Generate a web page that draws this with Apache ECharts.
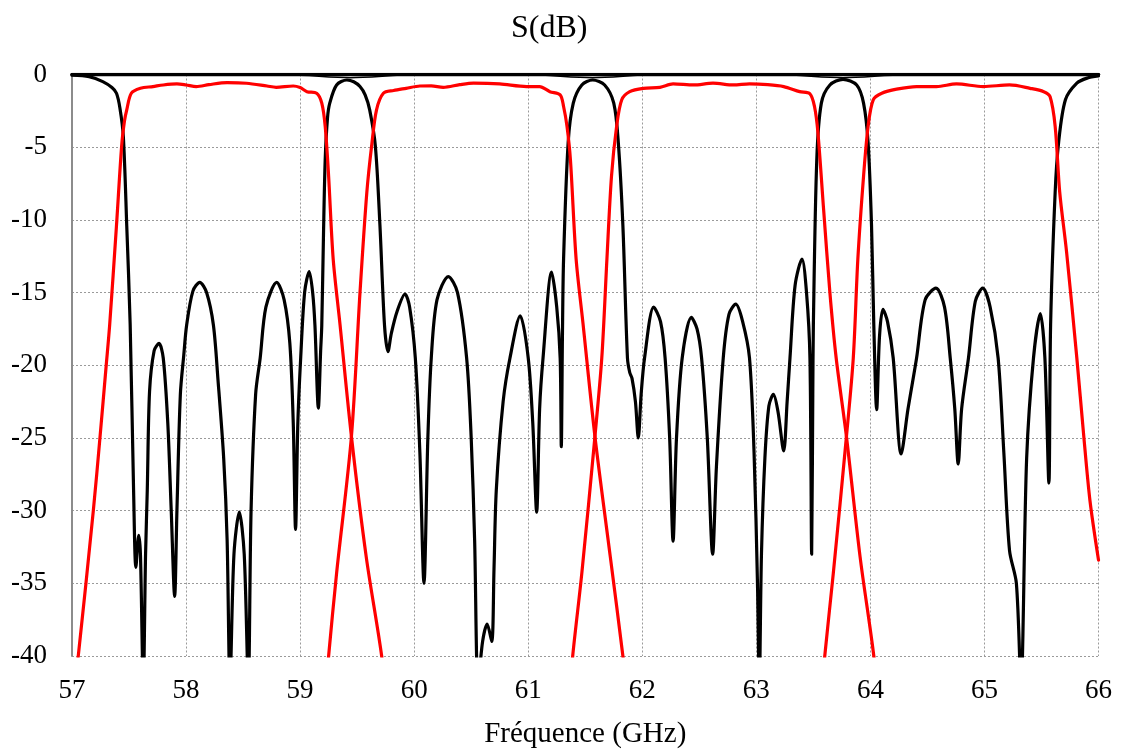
<!DOCTYPE html>
<html>
<head>
<meta charset="utf-8">
<script src="https://cdn.jsdelivr.net/npm/echarts@6/dist/echarts.min.js"></script>
<style>
html,body{margin:0;padding:0;background:#fff;}
#chart{width:1122px;height:754px;}
</style>
</head>
<body>
<div id="chart"></div>
<script>
// Axis ticks
var xTicks = [57, 58, 59, 60, 61, 62, 63, 64, 65, 66];
var yTicks = [0, -5, -10, -15, -20, -25, -30, -35, -40];

// Reflection at common port (black) [GHz, dB]
var s11 = [
[57.00,-0.05],[57.15,-0.15],[57.27,-0.49],[57.35,-0.9],[57.39,-1.29],[57.42,-2.3],[57.45,-4.25],[57.48,-10.4],
[57.51,-17.2],[57.54,-28.6],[57.56,-33.9],[57.585,-31.7],[57.60,-33],[57.625,-42],[57.645,-33],[57.66,-28.6],
[57.68,-21.8],[57.72,-19.0],[57.763,-18.5],[57.80,-19.5],[57.84,-24],[57.87,-30],[57.90,-35.9],[57.92,-30],
[57.95,-22],[57.98,-19.3],[58.005,-17.25],[58.06,-14.9],[58.12,-14.3],[58.18,-15.0],[58.24,-17.25],[58.28,-21],
[58.33,-26.4],[58.36,-32],[58.385,-42],[58.42,-33],[58.467,-30.1],[58.51,-33],[58.546,-42],[58.57,-30],
[58.61,-22],[58.65,-19.5],[58.70,-16],[58.795,-14.3],[58.86,-15.5],[58.91,-18.5],[58.94,-24],[58.96,-31.3],
[58.98,-24],[59.005,-19.5],[59.04,-14.95],[59.08,-13.55],[59.11,-15],[59.13,-17.25],[59.16,-22.95],[59.18,-19],
[59.19,-17.25],[59.205,-11],[59.22,-5.85],[59.24,-3],[59.26,-1.97],[59.32,-0.72],[59.41,-0.38],[59.47,-0.5],
[59.525,-0.83],[59.57,-1.4],[59.61,-2.43],[59.66,-4.94],[59.70,-10.4],[59.74,-17.25],[59.77,-19.07],[59.80,-17.8],
[59.85,-16.3],[59.92,-15.1],[59.96,-16.0],[60.01,-19.5],[60.05,-26],[60.086,-35.0],[60.12,-25],[60.15,-19.5],
[60.2,-15.5],[60.30,-13.9],[60.38,-15.0],[60.46,-19.5],[60.50,-25],[60.53,-32],[60.56,-42],[60.60,-39],
[60.64,-37.8],[60.68,-39.0],[60.70,-34],[60.72,-28.6],[60.78,-22.5],[60.84,-19.5],[60.93,-16.6],[61.0,-19.5],
[61.04,-24],[61.074,-30.1],[61.10,-23],[61.13,-19.5],[61.205,-13.6],[61.25,-16],[61.28,-19.5],[61.29,-25.6],
[61.30,-18],[61.31,-12.7],[61.35,-4.7],[61.395,-1.97],[61.47,-0.72],[61.565,-0.38],[61.67,-0.72],[61.75,-1.97],
[61.79,-4.7],[61.83,-10.4],[61.87,-19.5],[61.89,-20.5],[61.91,-20.9],[61.94,-22.5],[61.965,-25.0],[61.99,-22],
[62.02,-19.5],[62.10,-16.0],[62.16,-17],[62.2,-19.5],[62.24,-25],[62.27,-32.1],[62.30,-25],[62.35,-19.5],
[62.43,-16.7],[62.48,-17.5],[62.52,-19.5],[62.57,-25],[62.617,-33.0],[62.65,-27],[62.71,-19.5],[62.76,-16.5],
[62.82,-15.8],[62.88,-17],[62.94,-19.5],[62.98,-26],[63.01,-35],[63.026,-42],[63.045,-33],[63.075,-26.4],
[63.11,-22.8],[63.15,-22.0],[63.19,-23.2],[63.24,-25.9],[63.27,-22.5],[63.295,-19.5],[63.34,-14.5],[63.40,-12.7],
[63.44,-15],[63.47,-19.5],[63.485,-33.0],[63.495,-22],[63.50,-17.25],[63.53,-5.85],[63.57,-1.97],[63.645,-0.72],
[63.76,-0.33],[63.88,-0.72],[63.94,-1.97],[63.98,-4.7],[64.01,-10.4],[64.03,-17.25],[64.055,-23.06],[64.08,-18],
[64.11,-16.15],[64.15,-17],[64.20,-19.5],[64.27,-26.1],[64.33,-23],[64.405,-19.5],[64.48,-15.5],[64.575,-14.7],
[64.65,-16],[64.7,-19.5],[64.74,-23],[64.77,-26.8],[64.80,-23],[64.86,-19.5],[64.92,-15.6],[64.985,-14.7],
[65.05,-16],[65.12,-19.5],[65.17,-26],[65.22,-32.75],[65.28,-35.0],[65.32,-42],[65.37,-26.4],[65.43,-19.5],
[65.49,-16.45],[65.53,-19.5],[65.565,-28.1],[65.58,-17.25],[65.62,-8.1],[65.65,-4.7],[65.71,-1.74],[65.81,-0.6],
[65.9,-0.25],[66.0,-0.1]
];

// Near-0 black traces
var topFlat = [[57,0],[66,0]];
var topDips = [[57,0],[58.9,-0.02],[59.44,-0.22],[60.0,-0.02],[61.0,-0.02],[61.565,-0.22],[62.1,-0.02],[63.2,-0.02],[63.76,-0.22],[64.3,-0.02],[66,0]];

// Channel transmissions (red) [GHz, dB]
var ch1 = [
[56.98,-45],[57.055,-40],[57.187,-30],[57.245,-25],[57.30,-20],[57.33,-17.25],[57.39,-10.4],[57.435,-4.94],
[57.46,-3.2],[57.48,-2.43],[57.52,-1.29],[57.60,-0.95],[57.71,-0.83],[57.80,-0.72],[57.92,-0.65],[58.00,-0.72],
[58.09,-0.83],[58.2,-0.7],[58.36,-0.56],[58.53,-0.6],[58.71,-0.79],[58.79,-0.88],[58.94,-0.79],[59.00,-0.9],
[59.06,-1.18],[59.145,-1.29],[59.19,-1.97],[59.22,-3.57],[59.25,-7.0],[59.29,-12.7],[59.35,-17.2],[59.45,-24.9],
[59.58,-33.2],[59.715,-40],[59.75,-43]
];
var ch2 = [
[59.22,-43],[59.25,-40],[59.32,-34.3],[59.45,-24.9],[59.525,-15],[59.585,-8.1],[59.63,-4.7],[59.67,-2.43],
[59.73,-1.29],[59.82,-1.1],[59.93,-0.95],[60.05,-0.79],[60.15,-0.78],[60.255,-0.88],[60.4,-0.7],[60.52,-0.6],
[60.75,-0.65],[60.985,-0.83],[61.10,-0.83],[61.19,-1.18],[61.28,-1.4],[61.31,-2.2],[61.34,-3.57],[61.37,-5.85],
[61.42,-12.7],[61.48,-17.1],[61.585,-24.9],[61.72,-33.2],[61.83,-40],[61.87,-43]
];
var ch3 = [
[61.36,-43],[61.39,-40],[61.47,-34.3],[61.585,-24.9],[61.645,-19.5],[61.69,-12.7],[61.73,-7.0],[61.775,-3.57],
[61.82,-1.74],[61.89,-1.18],[62.01,-0.95],[62.155,-0.88],[62.27,-0.65],[62.45,-0.72],[62.62,-0.6],[62.80,-0.72],
[62.94,-0.65],[63.1,-0.7],[63.24,-0.83],[63.38,-1.18],[63.47,-1.33],[63.51,-2.2],[63.54,-4.0],[63.59,-9.3],
[63.645,-15.0],[63.70,-19.5],[63.79,-24.9],[63.91,-33.2],[64.03,-40],[64.06,-43]
];
var ch4 = [
[63.57,-43],[63.60,-40],[63.675,-34.3],[63.79,-24.9],[63.85,-19.5],[63.89,-12.7],[63.94,-7.0],[63.98,-3.57],
[64.025,-1.74],[64.10,-1.29],[64.23,-1.01],[64.405,-0.83],[64.58,-0.83],[64.755,-0.65],[64.99,-0.83],[65.22,-0.72],
[65.40,-0.95],[65.52,-1.18],[65.575,-1.52],[65.62,-3.57],[65.66,-8.1],[65.72,-12.2],[65.81,-19.5],[65.87,-24.8],
[65.925,-29.3],[66.0,-33.4]
];

var FONT = 'Liberation Serif';
var chart = echarts.init(document.getElementById('chart'), null, {renderer: 'canvas'});

function lineSeries(data, color, width, sm) {
  return {
    type: 'line', data: data, showSymbol: false, symbol: 'none',
    smooth: sm, clip: true, animation: false,
    lineStyle: {color: color, width: width, join: 'round', cap: 'round'}
  };
}

chart.setOption({
  animation: false,
  backgroundColor: '#ffffff',
  title: {
    text: 'S(dB)', left: 506, top: 8,
    textStyle: {fontFamily: FONT, fontSize: 32, fontWeight: 'normal', color: '#000'}
  },
  grid: {left: 72, right: 23.5, top: 74.5, bottom: 95, containLabel: false},
  xAxis: {
    type: 'value', min: xTicks[0], max: xTicks[xTicks.length - 1], interval: 1,
    name: 'Fréquence (GHz)', nameLocation: 'middle', nameGap: 64,
    nameTextStyle: {fontFamily: FONT, fontSize: 29, color: '#000'},
    axisLine: {show: false},
    axisTick: {show: false},
    axisLabel: {fontFamily: FONT, fontSize: 27, color: '#000', margin: 21},
    splitLine: {show: true, lineStyle: {color: '#9a9a9a', width: 1, type: [2, 2]}}
  },
  yAxis: {
    type: 'value', min: yTicks[yTicks.length - 1], max: yTicks[0], interval: 5,
    axisLine: {show: true, onZero: false, lineStyle: {color: '#8c8c8c', width: 2}},
    axisTick: {show: false},
    axisLabel: {fontFamily: FONT, fontSize: 27, color: '#000', margin: 25},
    splitLine: {show: true, lineStyle: {color: '#9a9a9a', width: 1, type: [2, 2]}}
  },
  series: [
    lineSeries(s11, '#000000', 3.2, 0.3),
    lineSeries(topDips, '#000000', 1.5, 0.3),
    lineSeries(topFlat, '#000000', 3.6, false),
    lineSeries(ch1, '#ff0000', 3.2, 0.3),
    lineSeries(ch2, '#ff0000', 3.2, 0.3),
    lineSeries(ch3, '#ff0000', 3.2, 0.3),
    lineSeries(ch4, '#ff0000', 3.2, 0.3)
  ]
});
</script>
</body>
</html>
